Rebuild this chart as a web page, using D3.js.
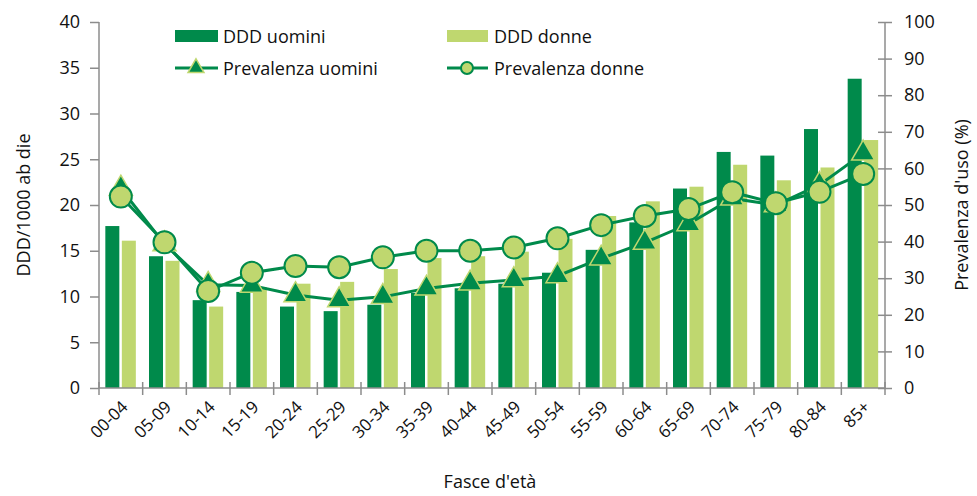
<!DOCTYPE html>
<html>
<head>
<meta charset="utf-8">
<script src="https://cdn.jsdelivr.net/npm/d3@7"></script>
<style>
  body { margin: 0; background: #fff; }
  svg text { font-family: "Open Sans", "Noto Sans", sans-serif; fill: #111; }
</style>
</head>
<body>
<svg class="chart" width="977" height="496"></svg>
<script>
document.addEventListener("DOMContentLoaded", function() {

    // data
    var categories = ["00-04","05-09","10-14","15-19","20-24","25-29","30-34","35-39","40-44",
                      "45-49","50-54","55-59","60-64","65-69","70-74","75-79","80-84","85+"];
    var dddUomini = [17.7, 14.4, 9.6, 10.5, 8.9, 8.4, 9.1, 10.4, 10.9, 11.4, 12.6, 15.1, 18.1, 21.8, 25.8, 25.4, 28.3, 33.8];
    var dddDonne  = [16.1, 13.9, 8.9, 11.0, 11.4, 11.6, 13.0, 14.2, 14.4, 14.9, 16.3, 18.8, 20.4, 22.0, 24.4, 22.7, 24.1, 27.1];
    var prevUomini = [54.5, 39.3, 28.2, 28.0, 25.4, 24.0, 24.9, 27.2, 28.6, 29.5, 30.6, 35.4, 39.7, 44.8, 51.8, 50.0, 55.5, 64.1];
    var prevDonne  = [52.3, 39.8, 26.5, 31.5, 33.3, 33.0, 35.7, 37.5, 37.5, 38.4, 40.9, 44.5, 47.0, 48.9, 53.5, 50.5, 53.6, 58.5];
    var leftTicks = [0, 5, 10, 15, 20, 25, 30, 35, 40];
    var rightTicks = [0, 10, 20, 30, 40, 50, 60, 70, 80, 90, 100];

    var dark = "#008a4b", light = "#bfd76f", axisCol = "#8c8c8c";

    var svg = d3.select("svg.chart");
    var left = 99, right = 885, top = 22, bottom = 388;

    var x = d3.scaleBand().domain(categories).range([left, right]).paddingInner(0).paddingOuter(0);
    var yL = d3.scaleLinear().domain([0, 40]).range([bottom, top]);
    var yR = d3.scaleLinear().domain([0, 100]).range([bottom, top]);
    var barW = 14;

    // bars
    svg.selectAll("rect.m").data(dddUomini).enter().append("rect")
        .attr("x", function(d, i) { return x(categories[i]) + x.bandwidth() / 2 - barW - 1.5; })
        .attr("y", function(d) { return yL(d); })
        .attr("width", barW)
        .attr("height", function(d) { return bottom - yL(d); })
        .attr("fill", dark);
    svg.selectAll("rect.f").data(dddDonne).enter().append("rect")
        .attr("x", function(d, i) { return x(categories[i]) + x.bandwidth() / 2 + 1; })
        .attr("y", function(d) { return yL(d); })
        .attr("width", barW)
        .attr("height", function(d) { return bottom - yL(d); })
        .attr("fill", light);

    // axes
    var gL = svg.append("g").attr("transform", "translate(" + left + ",0)")
        .call(d3.axisLeft(yL).tickValues(leftTicks).tickSize(9).tickPadding(10));
    var gR = svg.append("g").attr("transform", "translate(" + right + ",0)")
        .call(d3.axisRight(yR).tickValues(rightTicks).tickSize(7).tickPadding(12));
    gR.selectAll(".tick line").attr("x1", -7);
    var gX = svg.append("g").attr("transform", "translate(0," + bottom + ")")
        .call(d3.axisBottom(x).tickSize(7).tickFormat(""));
    // x ticks at category boundaries
    gX.selectAll(".tick").remove();
    gX.selectAll("line.b").data(categories.concat(["end"])).enter().append("line")
        .attr("x1", function(d, i) { return left + i * x.bandwidth(); })
        .attr("x2", function(d, i) { return left + i * x.bandwidth(); })
        .attr("y1", -6).attr("y2", 7);
    [gL, gR, gX].forEach(function(g) {
        g.select(".domain").attr("stroke", axisCol).attr("stroke-width", 1.5);
        g.selectAll("line").attr("stroke", axisCol).attr("stroke-width", 1.5);
        g.selectAll("text").style("font-size", "18px").attr("fill", "#111");
    });
    gL.select(".domain").attr("d", "M0," + bottom + "V" + top);
    gR.select(".domain").attr("d", "M0," + bottom + "V" + top);
    gX.select(".domain").attr("d", "M" + left + ",0H" + right);

    // x labels rotated
    svg.selectAll("text.xl").data(categories).enter().append("text")
        .attr("text-anchor", "end")
        .attr("transform", function(d) {
            return "translate(" + (x(d) + x.bandwidth() / 2 + 8) + "," + 408 + ") rotate(-45)";
        })
        .style("font-size", "17px")
        .text(function(d) { return d; });

    // lines
    var lineGen = d3.line()
        .x(function(d, i) { return x(categories[i]) + x.bandwidth() / 2; })
        .y(function(d) { return yR(d); });
    svg.append("path").datum(prevUomini).attr("d", lineGen)
        .attr("fill", "none").attr("stroke", dark).attr("stroke-width", 3);
    svg.append("path").datum(prevDonne).attr("d", lineGen)
        .attr("fill", "none").attr("stroke", dark).attr("stroke-width", 3);

    var tri = d3.symbol().type(d3.symbolTriangle).size(230);
    svg.selectAll("path.tri").data(prevUomini).enter().append("path")
        .attr("d", tri)
        .attr("transform", function(d, i) {
            return "translate(" + (x(categories[i]) + x.bandwidth() / 2) + "," + yR(d) + ")";
        })
        .attr("fill", dark).attr("stroke", light).attr("stroke-width", 1.5);
    svg.selectAll("circle.pd").data(prevDonne).enter().append("circle")
        .attr("cx", function(d, i) { return x(categories[i]) + x.bandwidth() / 2; })
        .attr("cy", function(d) { return yR(d); })
        .attr("r", 11)
        .attr("fill", light).attr("stroke", dark).attr("stroke-width", 2);

    // legend
    var leg = svg.append("g");
    leg.append("rect").attr("x", 175).attr("y", 30).attr("width", 43).attr("height", 12).attr("fill", dark);
    leg.append("text").attr("x", 223).attr("y", 43).style("font-size", "18px").text("DDD uomini");
    leg.append("rect").attr("x", 447).attr("y", 30).attr("width", 41).attr("height", 12).attr("fill", light);
    leg.append("text").attr("x", 494).attr("y", 43).style("font-size", "18px").text("DDD donne");

    leg.append("line").attr("x1", 175).attr("x2", 218).attr("y1", 68).attr("y2", 68)
        .attr("stroke", dark).attr("stroke-width", 3);
    leg.append("path").attr("d", d3.symbol().type(d3.symbolTriangle).size(110))
        .attr("transform", "translate(196,68)")
        .attr("fill", dark).attr("stroke", light).attr("stroke-width", 1.5);
    leg.append("text").attr("x", 223).attr("y", 75).style("font-size", "18px").text("Prevalenza uomini");
    leg.append("line").attr("x1", 447).attr("x2", 488).attr("y1", 68).attr("y2", 68)
        .attr("stroke", dark).attr("stroke-width", 3);
    leg.append("circle").attr("cx", 467).attr("cy", 68).attr("r", 6)
        .attr("fill", light).attr("stroke", dark).attr("stroke-width", 2);
    leg.append("text").attr("x", 494).attr("y", 75).style("font-size", "18px").text("Prevalenza donne");

    // axis titles
    svg.append("text").attr("transform", "translate(30,205) rotate(-90)")
        .attr("text-anchor", "middle").style("font-size", "18px").text("DDD/1000 ab die");
    svg.append("text").attr("transform", "translate(968,205) rotate(-90)")
        .attr("text-anchor", "middle").style("font-size", "18px").text("Prevalenza d'uso (%)");
    svg.append("text").attr("x", 490).attr("y", 488)
        .attr("text-anchor", "middle").style("font-size", "18px").text("Fasce d'età");
});
</script>
</body>
</html>
